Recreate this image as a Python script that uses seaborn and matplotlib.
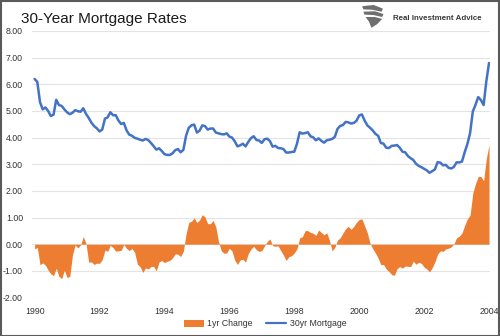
import matplotlib
matplotlib.use("Agg")
import matplotlib.pyplot as plt
from matplotlib.patches import Patch, Rectangle, Polygon
from matplotlib.lines import Line2D
import numpy as np
import pandas as pd
import seaborn as sns

# Monthly observations, axis labelled 1990-2004
start_year = 1990
rate_30yr = [
    6.20, 6.09, 5.33, 5.06, 5.13, 5.00, 4.81, 4.86, 5.42, 5.22, 5.19, 5.06,
    4.95, 4.88, 4.93, 5.03, 4.99, 4.97, 5.10, 4.89, 4.74, 4.56, 4.43, 4.35,
    4.23, 4.30, 4.71, 4.76, 4.95, 4.84, 4.84, 4.64, 4.51, 4.55, 4.27, 4.11,
    4.07, 3.99, 3.96, 3.92, 3.89, 3.95, 3.91, 3.80, 3.68, 3.55, 3.60, 3.50,
    3.38, 3.35, 3.35, 3.41, 3.53, 3.57, 3.45, 3.54, 4.07, 4.37, 4.46, 4.49,
    4.19, 4.26, 4.46, 4.43, 4.30, 4.34, 4.34, 4.19, 4.16, 4.13, 4.12, 4.16,
    4.04, 4.00, 3.86, 3.67, 3.71, 3.77, 3.67, 3.84, 3.98, 4.05, 3.91, 3.89,
    3.80, 3.94, 3.96, 3.87, 3.66, 3.69, 3.61, 3.60, 3.57, 3.44, 3.44, 3.46,
    3.47, 3.77, 4.20, 4.15, 4.17, 4.20, 4.05, 4.01, 3.90, 3.97, 3.88, 3.81,
    3.90, 3.92, 3.95, 4.03, 4.33, 4.44, 4.47, 4.59, 4.57, 4.53, 4.55, 4.63,
    4.83, 4.87, 4.64, 4.46, 4.37, 4.27, 4.14, 4.07, 3.80, 3.77, 3.62, 3.61,
    3.69, 3.70, 3.72, 3.62, 3.47, 3.45, 3.31, 3.23, 3.16, 3.02, 2.94, 2.89,
    2.83, 2.77, 2.68, 2.74, 2.81, 3.08, 3.06, 2.96, 2.98, 2.87, 2.84, 2.90,
    3.07, 3.07, 3.10, 3.45, 3.76, 4.17, 4.98, 5.23, 5.52, 5.41, 5.22, 6.11,
    6.80,
]
change_1yr = [
    -0.18, -0.12, -0.77, -0.70, -0.79, -0.97, -1.11, -1.18, -0.90, -1.21, -1.29, -0.98,
    -1.25, -1.21, -0.40, -0.03, -0.14, -0.03, 0.29, 0.03, -0.68, -0.66, -0.76, -0.71,
    -0.72, -0.58, -0.22, -0.27, -0.04, -0.13, -0.26, -0.25, -0.23, -0.01, -0.16, -0.24,
    -0.16, -0.31, -0.75, -0.84, -1.06, -0.89, -0.93, -0.84, -0.83, -1.00, -0.67, -0.61,
    -0.69, -0.64, -0.61, -0.51, -0.36, -0.38, -0.46, -0.26, 0.39, 0.82, 0.86, 0.99,
    0.81, 0.91, 1.11, 1.02, 0.77, 0.77, 0.89, 0.65, 0.09, -0.24, -0.34, -0.33,
    -0.15, -0.26, -0.60, -0.76, -0.59, -0.57, -0.67, -0.35, -0.18, -0.08, -0.21, -0.27,
    -0.24, -0.06, 0.10, 0.20, -0.05, -0.08, -0.06, -0.24, -0.41, -0.61, -0.47, -0.43,
    -0.33, -0.17, 0.24, 0.28, 0.51, 0.51, 0.44, 0.41, 0.33, 0.53, 0.44, 0.35,
    0.43, 0.15, -0.25, -0.12, 0.16, 0.24, 0.42, 0.58, 0.67, 0.56, 0.67, 0.82,
    0.93, 0.95, 0.69, 0.43, 0.04, -0.17, -0.33, -0.52, -0.77, -0.76, -0.93, -1.02,
    -1.14, -1.17, -0.92, -0.84, -0.90, -0.82, -0.83, -0.84, -0.64, -0.75, -0.68, -0.72,
    -0.86, -0.93, -1.04, -0.88, -0.66, -0.37, -0.25, -0.27, -0.18, -0.15, -0.10, 0.01,
    0.24, 0.30, 0.42, 0.71, 0.95, 1.09, 1.92, 2.27, 2.54, 2.54, 2.38, 3.21,
    3.73,
]
y_ticks = [-2, -1, 0, 1, 2, 3, 4, 5, 6, 7, 8]
x_ticks = [1990, 1992, 1994, 1996, 1998, 2000, 2002, 2004]

df = pd.DataFrame({
    "t": start_year + np.arange(len(rate_30yr)) / 12.0,
    "rate": rate_30yr,
    "chg": change_1yr,
})

ORANGE = "#ED7D31"
BLUE = "#4472C4"

sns.set_style("white")
plt.rcParams["font.family"] = ["Liberation Sans", "DejaVu Sans"]

W, H = 500, 336
fig = plt.figure(figsize=(W / 100, H / 100), dpi=100)
ax = fig.add_axes([32 / W, 1 - 297.5 / H, 458 / W, 266.5 / H])

ax.fill_between(df["t"], 0, df["chg"], color=ORANGE, linewidth=0, zorder=2)
sns.lineplot(data=df, x="t", y="rate", color=BLUE, linewidth=1.8, ax=ax, zorder=3)

ax.set_xlim(1990 - 0.08, 2004.03)
ax.set_ylim(-2, 8)
ax.set_yticks(y_ticks)
ax.set_yticklabels([f"{v:.2f}" for v in y_ticks])
ax.set_xticks(x_ticks)
ax.set_xticklabels([str(v) for v in x_ticks])
ax.tick_params(axis="both", length=0, labelsize=6.3, colors="#333333")
ax.tick_params(axis="y", pad=6.5)
ax.tick_params(axis="x", pad=6.5)
ax.set_xlabel("")
ax.set_ylabel("")
ax.grid(axis="y", color="#e3e3e3", linewidth=0.8, zorder=0)
ax.grid(axis="x", visible=False)
ax.set_axisbelow(True)
for s in ax.spines.values():
    s.set_visible(False)

# Title
fig.text(21 / W, 1 - 23.3 / H, "30-Year Mortgage Rates", fontsize=11,
         color="#1a1a1a", va="baseline", ha="left")

# Brand mark and name
fig.text(393 / W, 1 - 18 / H, "Real Investment Advice", fontsize=5.7,
         fontweight="bold", color="#3a3a3a", va="center", ha="left")
iax = fig.add_axes([361 / W, 1 - 29 / H, 23 / W, 24 / H])
iax.set_xlim(0, 1)
iax.set_ylim(0, 1)
iax.axis("off")
shapes = [
    [(0.05, 0.95), (0.55, 1.0), (0.95, 0.85), (0.9, 0.72), (0.5, 0.8), (0.1, 0.82)],
    [(0.1, 0.72), (0.6, 0.74), (0.98, 0.62), (0.92, 0.5), (0.55, 0.58), (0.15, 0.6)],
    [(0.2, 0.5), (0.6, 0.5), (0.92, 0.42), (0.7, 0.2), (0.45, 0.05), (0.35, 0.3)],
]
for pts in shapes:
    iax.add_patch(Polygon(pts, closed=True, color="#6f6f6f", linewidth=0))

# Legend
handles = [Patch(facecolor=ORANGE, edgecolor="none"),
           Line2D([0], [0], color=BLUE, linewidth=1.6)]
fig.legend(handles, ["1yr Change", "30yr Mortgage"], loc="center",
           bbox_to_anchor=(265 / W, 1 - 324 / H), ncol=2, frameon=False,
           fontsize=6.3, handlelength=2.3, handleheight=0.7, handletextpad=0.4,
           columnspacing=1.5, labelcolor="#333333")

# Outer frame
fig.patches.append(Rectangle((0.5 / W, 0.5 / H), 1 - 1.5 / W, 1 - 1.5 / H,
                             transform=fig.transFigure, fill=False,
                             edgecolor="#5a5a5a", linewidth=1.5))

fig.savefig("out.png", dpi=100)
